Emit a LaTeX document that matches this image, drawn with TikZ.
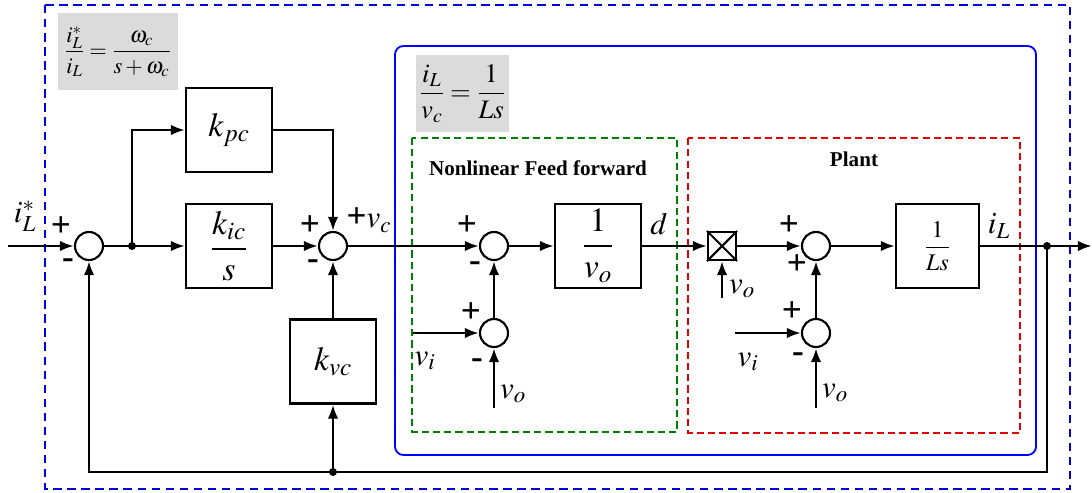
\documentclass[tikz,border=0pt]{standalone}
\usepackage{mathptmx}
\usepackage[no-math]{fontspec}
\setmainfont{Liberation Serif}
\usetikzlibrary{arrows.meta}

\begin{document}
\begin{tikzpicture}[x=0.025cm,y=-0.025cm,>={Latex[length=10pt,width=7.5pt]}]
  \tikzset{every node/.style={inner sep=0pt}}
  \tikzstyle{sig}=[line width=2.1pt]
  \tikzstyle{blockbox}=[draw,line width=1.5pt,fill=white,minimum width=2.15cm,minimum height=2.1cm,font=\fontsize{24}{28}\selectfont]
  \tikzstyle{sumnode}=[draw,circle,line width=1.5pt,fill=white,minimum size=0.7cm]
  \tikzstyle{sgn}=[font=\fontsize{25}{27}\selectfont\bfseries]
  \tikzstyle{lbl}=[font=\fontsize{22}{26}\selectfont]
  \tikzstyle{eqbox}=[fill=black!14,font=\fontsize{16}{19}\selectfont]
  \tikzstyle{title}=[font=\fontsize{15}{18}\selectfont\bfseries]

  \useasboundingbox (0,0) rectangle (1092,493);

  % frames
  \draw[blue!85!black,line width=1.4pt,dash pattern=on 6pt off 4pt] (45,5) rectangle (1070,489);
  \draw[blue,line width=1.3pt,rounded corners=6pt] (395,46) rectangle (1036,455);
  \draw[green!50!black,line width=1.3pt,dash pattern=on 5pt off 3pt] (412,138) rectangle (677,432);
  \draw[red!90!black,line width=1.3pt,dash pattern=on 5pt off 3pt] (688,138) rectangle (1020,433);

  % transfer functions
  \node[eqbox,minimum width=3cm,minimum height=1.925cm] (eqOuter) at (118,51.5) {$\displaystyle\frac{i_L^*}{i_L}=\frac{\omega_c}{s+\omega_c}$};
  \node[eqbox,minimum width=2.325cm,minimum height=1.925cm,font=\fontsize{19}{22}\selectfont] (eqInner) at (462.5,93.5) {$\displaystyle\frac{i_L}{v_c}=\frac{1}{Ls}$};

  % titles
  \node[title] (ffTitle) at (538,168) {Nonlinear Feed forward};
  \node[title] (plantTitle) at (854,159) {Plant};

  % current controller
  \coordinate (in) at (8,246);
  \node[sumnode] (sumErr) at (89,246) {};
  \coordinate (jA) at (132,246);
  \node[blockbox] (kpc) at (229,130) {$k_{pc}$};
  \node[blockbox] (kic) at (229,246) {$\displaystyle\frac{k_{ic}}{s}$};
  \node[sumnode] (sumV) at (333,246) {};
  \node[blockbox] (kvc) at (333,361.5) {$k_{vc}$};
  \coordinate (jFb) at (333,472);

  % feed forward
  \node[sumnode] (sumFF) at (494,246) {};
  \node[sumnode] (sumVi) at (494,333) {};
  \node[blockbox] (invVo) at (598,246) {$\displaystyle\frac{1}{v_o}$};
  \coordinate (viFF) at (413,333);
  \coordinate (voFF) at (494,408);

  % plant
  \node[draw,line width=1.5pt,minimum size=0.7cm] (mult) at (722,246) {};
  \node[sumnode] (sumP) at (816,246) {};
  \node[sumnode] (sumPv) at (816,333) {};
  \node[blockbox,minimum width=2.075cm,font=\fontsize{17}{20}\selectfont] (Ls) at (937.5,246) {$\displaystyle\frac{1}{Ls}$};
  \coordinate (voM) at (722,298);
  \coordinate (viP) at (735,333);
  \coordinate (voP) at (816,408);
  \coordinate (jOut) at (1047,246);
  \coordinate (out) at (1092,246);

  \draw[line width=1.5pt] (mult.north west) -- (mult.south east) (mult.north east) -- (mult.south west);

  % signals
  \draw[sig,->] (in) -- (sumErr);
  \draw[sig] (sumErr) -- (jA);
  \draw[sig,->] (jA) -- (kic);
  \draw[sig,->] (jA) |- (kpc);
  \draw[sig,->] (kpc) -| (sumV);
  \draw[sig,->] (kic) -- (sumV);
  \draw[sig,->] (kvc) -- (sumV);
  \draw[sig,->] (jFb) -- (kvc);
  \draw[sig,->] (sumV) -- (sumFF);
  \draw[sig,->] (sumFF) -- (invVo);
  \draw[sig,->] (viFF) -- (sumVi);
  \draw[sig,->] (voFF) -- (sumVi);
  \draw[sig,->] (sumVi) -- (sumFF);
  \draw[sig,->] (invVo) -- (mult);
  \draw[sig,->] (voM) -- (mult);
  \draw[sig,->] (mult) -- (sumP);
  \draw[sig,->] (viP) -- (sumPv);
  \draw[sig,->] (voP) -- (sumPv);
  \draw[sig,->] (sumPv) -- (sumP);
  \draw[sig,->] (sumP) -- (Ls);
  \draw[sig,->] (Ls) -- (jOut) -- (out);
  \draw[sig,->] (jOut) |- (jFb) -| (sumErr);
  \fill (jA) circle (0.1cm);
  \fill (jFb) circle (0.1cm);
  \fill (jOut) circle (0.1cm);

  % labels
  \node[lbl] (lIref) at (25,216) {$i_L^*$};
  \node[sgn] (s1) at (61,227) {+};
  \node[sgn] (s2) at (68,264) {-};
  \node[sgn] (s3) at (310,226) {+};
  \node[sgn] (s4) at (313,265) {-};
  \node[lbl] (lVc) at (369,220) {\textbf{\fontsize{25}{27}\selectfont +}$v_c$};
  \node[sgn] (s5) at (467,226) {+};
  \node[sgn] (s6) at (475,267) {-};
  \node[sgn] (s7) at (471,313) {+};
  \node[sgn] (s8) at (477,364) {-};
  \node[lbl] (lViFF) at (425,361) {$v_i$};
  \node[lbl] (lVoFF) at (513,394) {$v_o$};
  \node[lbl] (lD) at (659,224) {$d$};
  \node[lbl] (lVoM) at (742,289) {$v_o$};
  \node[sgn] (s9) at (789,226) {+};
  \node[sgn] (s10) at (797,265) {+};
  \node[sgn] (s11) at (792,312) {+};
  \node[sgn] (s12) at (798,358) {-};
  \node[lbl] (lViP) at (748,362) {$v_i$};
  \node[lbl] (lVoP) at (835,393) {$v_o$};
  \node[lbl] (lIL) at (999,226) {$i_L$};

\end{tikzpicture}
\end{document}
